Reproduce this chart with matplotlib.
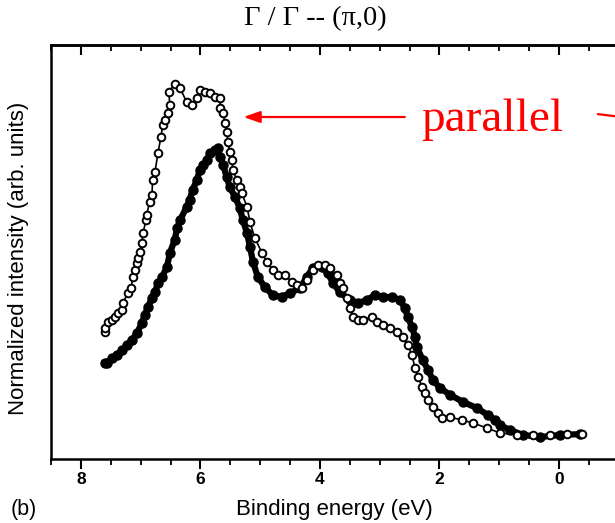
import matplotlib
matplotlib.use("Agg")
import matplotlib.pyplot as plt
import numpy as np
from matplotlib.ticker import MultipleLocator

# open circles: binding energy (eV) and normalized intensity
open_e = [7.60, 7.60, 7.55, 7.48, 7.43, 7.38, 7.31, 7.30, 7.21, 7.16, 7.13, 7.10,
          7.06, 7.05, 7.01, 6.98, 6.96, 6.91, 6.90, 6.85, 6.81, 6.80, 6.76, 6.71,
          6.66, 6.63, 6.59, 6.54, 6.51, 6.53, 6.43, 6.34, 6.23, 6.14, 6.06, 6.01,
          5.92, 5.84, 5.76, 5.67, 5.67, 5.62, 5.59, 5.56, 5.54, 5.51, 5.47, 5.46,
          5.39, 5.34, 5.31, 5.22, 5.17, 5.09, 4.97, 4.89, 4.79, 4.70, 4.59, 4.47,
          4.38, 4.30, 4.22, 4.12, 4.03, 3.92, 3.83, 3.72, 3.67, 3.62, 3.55, 3.50,
          3.45, 3.36, 3.28, 3.13, 3.05, 2.95, 2.83, 2.71, 2.61, 2.53, 2.46, 2.41,
          2.36, 2.29, 2.24, 2.19, 2.11, 2.03, 1.96, 1.82, 1.62, 1.44, 1.21, 0.99,
          0.70, 0.44, 0.15, -0.13, -0.38]
open_i = [0.307, 0.316, 0.331, 0.336, 0.343, 0.353, 0.360, 0.377, 0.401, 0.413, 0.440, 0.457,
          0.473, 0.486, 0.500, 0.522, 0.546, 0.577, 0.589, 0.621, 0.638, 0.674, 0.693, 0.739,
          0.778, 0.807, 0.819, 0.836, 0.855, 0.886, 0.906, 0.896, 0.862, 0.855, 0.872, 0.891,
          0.886, 0.884, 0.874, 0.872, 0.848, 0.836, 0.812, 0.790, 0.766, 0.742, 0.722, 0.698,
          0.674, 0.657, 0.643, 0.609, 0.572, 0.534, 0.498, 0.476, 0.457, 0.444, 0.444, 0.428,
          0.420, 0.413, 0.432, 0.457, 0.469, 0.469, 0.461, 0.444, 0.425, 0.413, 0.389, 0.365,
          0.343, 0.336, 0.336, 0.343, 0.331, 0.324, 0.316, 0.307, 0.295, 0.275, 0.251, 0.220,
          0.198, 0.174, 0.159, 0.143, 0.126, 0.111, 0.099, 0.101, 0.094, 0.087, 0.075, 0.063,
          0.058, 0.058, 0.058, 0.060, 0.060]

# filled circles
fill_e = [7.60, 7.56, 7.48, 7.40, 7.31, 7.23, 7.15, 7.06, 6.98, 6.93, 6.88, 6.81,
          6.76, 6.71, 6.64, 6.56, 6.51, 6.43, 6.39, 6.34, 6.23, 6.18, 6.13, 6.06,
          6.01, 5.96, 5.89, 5.84, 5.76, 5.71, 5.67, 5.62, 5.56, 5.51, 5.42, 5.34,
          5.29, 5.22, 5.17, 5.12, 5.04, 4.92, 4.79, 4.64, 4.50, 4.33, 4.22, 4.12,
          3.97, 3.87, 3.78, 3.67, 3.50, 3.36, 3.21, 3.08, 2.95, 2.79, 2.66, 2.58,
          2.53, 2.46, 2.41, 2.38, 2.28, 2.19, 2.11, 1.99, 1.82, 1.61, 1.37, 1.19,
          1.07, 0.99, 0.82, 0.60, 0.32, -0.02, -0.35]
fill_i = [0.232, 0.232, 0.244, 0.251, 0.263, 0.275, 0.287, 0.304, 0.329, 0.348, 0.367, 0.389,
          0.403, 0.425, 0.440, 0.464, 0.498, 0.529, 0.558, 0.577, 0.609, 0.626, 0.650, 0.674,
          0.698, 0.710, 0.722, 0.739, 0.746, 0.751, 0.729, 0.710, 0.681, 0.657, 0.633, 0.606,
          0.577, 0.546, 0.512, 0.476, 0.440, 0.415, 0.396, 0.391, 0.401, 0.413, 0.440, 0.461,
          0.464, 0.449, 0.425, 0.403, 0.384, 0.377, 0.384, 0.396, 0.391, 0.391, 0.384, 0.365,
          0.343, 0.319, 0.295, 0.271, 0.239, 0.215, 0.191, 0.171, 0.155, 0.138, 0.123, 0.106,
          0.094, 0.082, 0.070, 0.058, 0.053, 0.058, 0.060]

xticks = [8, 6, 4, 2, 0]

fig = plt.figure(figsize=(6.15, 5.23), dpi=100)
ax = fig.add_axes([0.0829, 0.1224, 0.9232, 0.7916])

ax.plot(fill_e, fill_i, '-', color='black', lw=4.5, zorder=2)
ax.plot(fill_e, fill_i, 'o', color='black', ms=6.5, zorder=3)
ax.plot(open_e, open_i, '-', color='black', lw=1.2, zorder=4)
ax.plot(open_e, open_i, 'o', mfc='white', mec='black', mew=1.4, ms=5.5, zorder=5)

ax.set_xlim(8.5, -1.0)
ax.set_ylim(0, 1)

for s in ['left', 'top', 'bottom']:
    ax.spines[s].set_linewidth(1.8)
ax.spines['right'].set_visible(False)

ax.set_yticks([])
ax.set_xticks(xticks)
ax.set_xticklabels([str(t) for t in xticks], fontfamily='Liberation Sans',
                   fontweight='bold', fontsize=12.5)
ax.xaxis.set_minor_locator(MultipleLocator(0.5))
ax.tick_params(axis='x', which='major', direction='out', length=7.5, width=1.5, pad=2)
ax.tick_params(axis='x', which='minor', direction='out', length=4.5, width=1.3)

top = ax.secondary_xaxis('top')
top.set_xticks(xticks)
top.set_xticklabels([])
top.xaxis.set_minor_locator(MultipleLocator(0.5))
top.tick_params(axis='x', which='major', direction='in', length=7.5, width=1.5)
top.tick_params(axis='x', which='minor', direction='in', length=4.5, width=1.3)
top.spines['top'].set_linewidth(1.8)

# red annotation
ax.annotate('', xy=(5.28, 0.826), xytext=(2.58, 0.826),
            arrowprops=dict(arrowstyle='-|>,head_length=1.0,head_width=0.35',
                            color='red', lw=1.6, shrinkA=0, shrinkB=0))
ax.text(1.12, 0.82, 'parallel', color='red', fontsize=34,
        fontfamily='Liberation Serif', ha='center', va='center')
ax.annotate('', xy=(-1.5, 0.818), xytext=(-0.65, 0.833),
            arrowprops=dict(arrowstyle='-', color='red', lw=1.6,
                            shrinkA=0, shrinkB=0), annotation_clip=False)

fig.text(315 / 615, 1 - 19 / 523, 'Γ / Γ -- (π,0)',
         fontfamily='Liberation Serif', fontsize=20.5, ha='center', va='center')
fig.text(334 / 615, 1 - 509 / 523, 'Binding energy (eV)', fontfamily='Liberation Sans',
         fontsize=16, ha='center', va='center')
fig.text(19 / 615, 1 - 258 / 523, 'Normalized intensity (arb. units)',
         fontfamily='Liberation Sans', fontsize=16, rotation=90, ha='center', va='center')
fig.text(11 / 615, 1 - 509 / 523, '(b)', fontfamily='Liberation Sans',
         fontsize=15.5, ha='left', va='center')

fig.savefig('out.png', dpi=100)
